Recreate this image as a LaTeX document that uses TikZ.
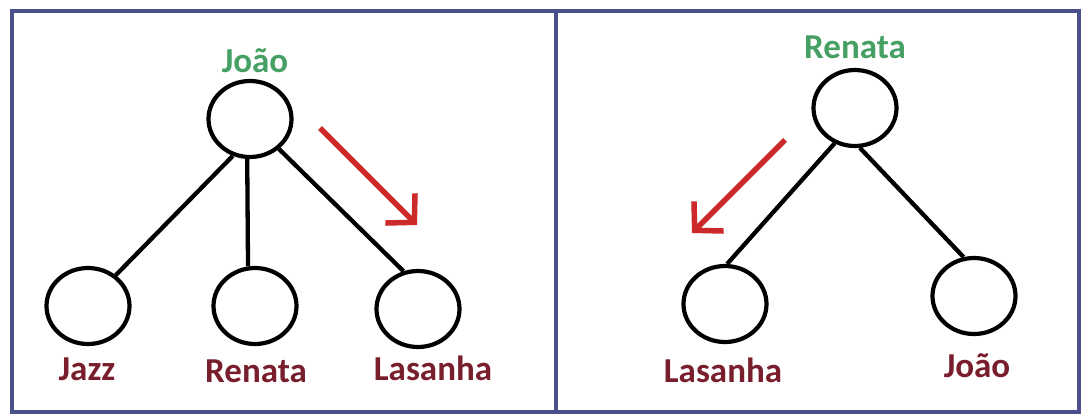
\documentclass[tikz,border=0pt]{standalone}
\usepackage{fontspec}
\setmainfont{Carlito}
\usetikzlibrary{shapes.geometric,arrows.meta}
\definecolor{frame}{RGB}{74,80,140}
\definecolor{rootgreen}{RGB}{70,160,100}
\definecolor{leafred}{RGB}{120,30,45}
\definecolor{arrowred}{RGB}{204,42,42}
\tikzset{
  vert/.style={ellipse,draw=black,line width=4.2pt,minimum width=83pt,minimum height=76pt,inner sep=0pt},
  edge/.style={draw=black,line width=4.3pt},
  lbl/.style={anchor=base,inner sep=0pt,font=\bfseries\fontsize{35}{40}\selectfont},
  rootlbl/.style={lbl,text=rootgreen},
  leaflbl/.style={lbl,text=leafred},
  move/.style={draw=arrowred,line width=5.5pt,-{Straight Barb[length=20pt,width=42pt]}},
  panel/.style={draw=frame,line width=4pt}
}
\begin{document}
\begin{tikzpicture}[x=1pt,y=-1pt]
\useasboundingbox (0,0) rectangle (1088,418);
% frame
\draw[panel] (12,11) rectangle (1079,412);
\coordinate (dtop) at (556,11);
\coordinate (dbot) at (556,412);
\draw[panel] (dtop) -- (dbot);

% left tree
\node[vert] (L0) at (250,119) {};
\node[vert] (L1) at (88,306) {};
\node[vert] (L2) at (255,306) {};
\node[vert] (L3) at (418,309) {};
\node[rootlbl] (tL0) at (255,72) {João};
\node[leaflbl] (tL1) at (87,380) {Jazz};
\node[leaflbl] (tL2) at (256,382) {Renata};
\node[leaflbl] (tL3) at (433,380) {Lasanha};
\draw[edge] (L0.245) -- (L1.48);
\draw[edge] (L0.266) -- (L2.100);
\draw[edge] (L0.314) -- (L3.111);
\coordinate (la1) at (320,128);
\coordinate (la2) at (417,225);
\draw[move] (la1) -- (la2);

% right tree
\node[vert] (R0) at (855,108) {};
\node[vert] (R1) at (725,304) {};
\node[vert] (R2) at (974,296) {};
\node[rootlbl] (tR0) at (855,58) {Renata};
\node[leaflbl] (tR1) at (723,382) {Lasanha};
\node[leaflbl] (tR2) at (977,377) {João};
\draw[edge] (R0.240) -- (R1.87);
\draw[edge] (R0.277) -- (R2.105);
\coordinate (ra1) at (785,140);
\coordinate (ra2) at (692,233);
\draw[move] (ra1) -- (ra2);
\end{tikzpicture}
\end{document}
